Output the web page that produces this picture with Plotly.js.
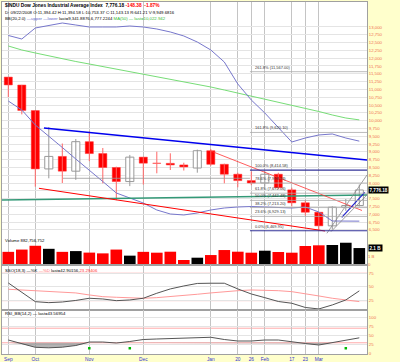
<!DOCTYPE html>
<html><head><meta charset="utf-8">
<script src="https://cdn.plot.ly/plotly-3.0.1.min.js"></script>
<style>html,body{margin:0;padding:0;background:#FFFFCC;}#chart{width:400px;height:362px;}</style>
</head><body><div id="chart"></div>
<script>
// ---- data (weekly, $INDU) ----
const weeks = ['2008-09-22','2008-09-29','2008-10-06','2008-10-13','2008-10-20','2008-10-27','2008-11-03','2008-11-10','2008-11-17','2008-11-24','2008-12-01','2008-12-08','2008-12-15','2008-12-22','2008-12-29','2009-01-05','2009-01-12','2009-01-20','2009-01-26','2009-02-02','2009-02-09','2009-02-17','2009-02-23','2009-03-02','2009-03-09','2009-03-16','2009-03-23'];
const openP  = [11394.42,11139.6,10322,8451,8852,8379,9325,8944,8497,8046,8829,8635,8630,8579,8480,9035,8599,8281,8078,8001,8281,7780,7366,7063,6627,7224,7278];
const highP  = [11394.58,11143,10322,9794,9265,9410,9654,9122,8523,8900,8830,9004,8952,8650,9070,9088,8620,8330,8370,8381,8330,7850,7450,7063,7253,7486,7953];
const lowP   = [10753.37,10200,7882,8150,8000,8100,8700,7990,7449,7900,7950,8311,8417,8400,8330,8550,7990,7862,7930,7880,7800,7249,6952,6470,6516,7107,7249];
const closeP = [11143.13,10325.38,8451.19,8852.22,8378.95,9325.01,8943.81,8497.31,8046.42,8829.04,8635.42,8629.68,8579.11,8515.55,9034.69,8599.18,8281.22,8077.56,8000.86,8280.59,7850.41,7365.67,7062.93,6626.94,7223.98,7278.38,7776.18];
const volumeB = [1.6,1.9,2.4,2.0,1.6,1.7,1.5,1.4,1.9,1.1,1.6,1.49,1.62,0.53,0.83,1.18,1.84,1.62,1.49,1.75,1.58,1.49,2.37,2.46,2.5,2.8,2.1];
const bbUpper = [12728,12615,12968,13048,13128,13064,13000,13000,13000,13032,13000,12936,12840,12712,12519,12263,11878,11173,10660,10244,9795,9314,9442,9539,9571,9442,9341.89];
const bbLower = [10628,10340,9859,9506,9138,8769,8417,8048,7680,7520,7359,7135,7007,6975,7039,7135,7199,7231,7247,7231,7215,7199,7231,7071,6782,6782,6777.22];
const ma50 = [12391,12263,12167,12071,11974,11894,11814,11734,11654,11574,11494,11414,11333,11253,11173,11077,10981,10885,10788,10692,10596,10500,10404,10292,10180,10083,10022.94];
const ssoK = [57.3,40.9,23.2,21.4,22.6,25.4,29.4,28.1,25,26.3,29.4,38.5,46.4,51.8,56.4,56.8,56.8,46.4,37.2,30.5,23.5,20.3,12.6,9.9,17.2,26.3,42.9];
const ssoD = [45.8,44.5,43.2,42.2,41.4,39.1,35.4,32.3,31.2,29.9,29.4,30.5,32.3,34.5,36.7,39.1,41.4,43.2,44.5,44.5,43.2,41.4,38.1,33.6,29.4,26.3,23.3];
const rsiBB = [37.6,26.6,17.6,16.2,17.9,22.5,32.1,32.1,29.4,33.5,39.0,40.4,41.2,41.8,42.3,45.1,39.0,34.9,34.9,37.6,37.6,32.1,28.0,23.9,30.8,37.6,43.57];
const rsiSignalWeeks = [6,9,25];
const rsiSignalValue = [15,15,15];
const tickWeekIdx = [0,2,6,10,15,17,18,19,21,22,23];
const tickLabels = ['Sep','Oct','Nov','Dec','Jan','20','26','Feb','17','23','Mar'];
const priceTicks = [6500,6750,7000,7250,7500,7750,8000,8250,8500,8750,9000,9250,9500,9750,10000,10250,10500,10750,11000,11250,11500,11750,12000,12250,12500,12750,13000];
// trend lines: [week index start, end], [price start, end]
const blueLineX = [2.64,26.57], blueLineY = [9763,8737];
const tealLineX = [-0.47,26.57], tealLineY = [7455,7616];
const redLowX = [2.27,23.46], redLowY = [7830,6462];
const redHighX = [14.94,26.2], redHighY = [9035,7119];
const grayFan1X = [23.6,26.57], grayFan1Y = [6388,8257];
const grayFan2X = [23.9,26.57], grayFan2Y = [6440,7620];
const blueFanX = [24.7,26.4], blueFanY = [6900,7700];
const supportX = [4.05,17.9], supportY = [8151,8151];
const fibStartX = 17.9;
const fibLevels = [6469.95,6929.13,7213.20,7442.48,7672.06,7998.93,8414.58,9620.10,11567.00];
const fibNames  = ['0.0%','23.6%','38.2%','50.0%','61.8%','78.6%','100.0%','161.8%','261.8%'];

// ---- build traces ----
const idx = weeks.map((_, i) => i);
const up = idx.map(i => closeP[i] > openP[i]);
function wick(sel){ const xs=[], ys=[]; idx.forEach(i=>{ if(sel(i)){ xs.push(i,i,null); ys.push(lowP[i],highP[i],null);} }); return {xs,ys}; }
const wUp = wick(i=>up[i]), wDn = wick(i=>!up[i]);
const traces = [];
// volume (overlay axis)
traces.push({type:'bar', x:idx, y:volumeB, yaxis:'y4', width:0.86,
  marker:{color: idx.map(i => (i>0 && closeP[i] > closeP[i-1]) ? '#000000' : '#FF0000'), line:{width:0}}});
traces.push({type:'scatter', mode:'lines', x:wUp.xs, y:wUp.ys, line:{color:'#999999', width:1}});
traces.push({type:'scatter', mode:'lines', x:wDn.xs, y:wDn.ys, line:{color:'#FF6666', width:1}});
const upI = idx.filter(i=>up[i]), dnI = idx.filter(i=>!up[i]);
traces.push({type:'bar', x:upI, base:upI.map(i=>openP[i]), y:upI.map(i=>closeP[i]-openP[i]), width:0.6,
  marker:{color:'#FFFFFF', line:{color:'#999999', width:1}}});
traces.push({type:'bar', x:dnI, base:dnI.map(i=>closeP[i]), y:dnI.map(i=>openP[i]-closeP[i]), width:0.6,
  marker:{color:'#FF0000', line:{color:'#FF3333', width:0.5}}});
// indicators
traces.push({type:'scatter', mode:'lines', x:idx, y:ma50, line:{color:'#77DD77', width:1}});
traces.push({type:'scatter', mode:'lines', x:idx, y:bbUpper, line:{color:'#7777CC', width:1}});
traces.push({type:'scatter', mode:'lines', x:idx, y:bbLower, line:{color:'#7777CC', width:1}});
// trend lines
const tl = (x,y,c,w)=>traces.push({type:'scatter', mode:'lines', x:x, y:y, line:{color:c, width:w}});
tl(supportX, supportY, '#999999', 0.8);
tl(tealLineX, tealLineY, '#339977', 1.5);
tl(blueLineX, blueLineY, '#0000EE', 1.5);
tl(redLowX, redLowY, '#FF0000', 1);
tl(redHighX, redHighY, '#FF3333', 0.8);
tl(grayFan1X, grayFan1Y, '#888888', 0.8);
tl(grayFan2X, grayFan2Y, '#888888', 0.8);
tl(blueFanX, blueFanY, '#2222CC', 1.2);
// SSO
traces.push({type:'scatter', mode:'lines', x:idx, y:ssoD, yaxis:'y2', line:{color:'#FF9999', width:1}});
traces.push({type:'scatter', mode:'lines', x:idx, y:ssoK, yaxis:'y2', line:{color:'#555555', width:1}});
// RSI
traces.push({type:'scatter', mode:'lines', x:idx, y:idx.map(()=>30), yaxis:'y3', line:{width:0}});
traces.push({type:'scatter', mode:'lines', x:idx, y:rsiBB.map(v=>Math.min(v,30)), yaxis:'y3', line:{width:0}, fill:'tonexty', fillcolor:'rgba(130,130,130,0.6)'});
traces.push({type:'scatter', mode:'lines', x:idx, y:rsiBB, yaxis:'y3', line:{color:'#555555', width:1}});
traces.push({type:'scatter', mode:'markers', x:rsiSignalWeeks, y:rsiSignalValue, yaxis:'y3', marker:{color:'#00BB00', size:2.5, symbol:'square'}});

// ---- layout ----
const PY = py => (354 - py) / 352;   // pixel row -> paper fraction
const shapes = [];
fibLevels.forEach((lv,k)=>{
  const strong = (k===0 || k===6);
  shapes.push({type:'line', xref:'x', yref:'y', x0:fibStartX, x1:26.6, y0:lv, y1:lv, line:{color: strong ? '#333399' : '#AAAAAA', width: strong ? 1.2 : 0.8}});
});
[[75,'y2'],[25,'y2'],[70,'y3'],[30,'y3']].forEach(([v,ax])=>{
  shapes.push({type:'line', xref:'paper', yref:ax, x0:0, x1:1, y0:v, y1:v, layer:'below', line:{color:'#FFAAAA', width:1}});
});
const small = {family:'Liberation Sans, Arial, sans-serif', size:4.3, color:'#000'};
const annotations = [
  {xref:'paper', yref:'paper', x:0.003, y:PY(5), xanchor:'left', yanchor:'middle', showarrow:false,
   font:{family:'Liberation Sans, Arial, sans-serif', size:4.8, color:'#000'},
   text:'<b>$INDU Dow Jones Industrial Average Index  7,776.18 <span style="color:#FF0000">-148.38  -1.87%</span></b>'},
  {xref:'paper', yref:'paper', x:0.003, y:PY(12.5), xanchor:'left', yanchor:'middle', showarrow:false, font:small,
   text:'D: 09/22/2008 O:11,394.42 H:11,394.58 L:10,753.37 C:11,143.13 R:641.21 V:9,949.6816'},
  {xref:'paper', yref:'paper', x:0.003, y:PY(18.5), xanchor:'left', yanchor:'middle', showarrow:false, font:small,
   text:'BB(20,2.0) <span style="color:#6666CC">—upper —lower</span> last=9,341.8876,6,777.2244 <span style="color:#33BB33">MA(50) — last=10,022.942</span>'},
  {xref:'paper', yref:'paper', x:0.003, y:PY(240), xanchor:'left', yanchor:'middle', showarrow:false, font:small,
   text:'Volume 882,756,752'},
  {xref:'paper', yref:'paper', x:0.003, y:PY(270), xanchor:'left', yanchor:'middle', showarrow:false, font:small,
   text:'SSO(18,3) —%K <span style="color:#FF6666">—%D</span> last=42.90156,<span style="color:#FF3333">23.29406</span>'},
  {xref:'paper', yref:'paper', x:0.003, y:PY(313), xanchor:'left', yanchor:'middle', showarrow:false, font:small,
   text:'RSI_BB(14,2) — last=43.56954'},
  {xref:'paper', yref:'y', x:1.003, y:7776.18, xanchor:'left', yanchor:'middle', showarrow:false,
   bgcolor:'#000000', borderpad:0.5, font:{family:'Liberation Sans, Arial, sans-serif', size:4.6, color:'#FFFFFF'}, text:'<b>7,776.18</b>'},
  {xref:'paper', yref:'y4', x:1.003, y:2.1, xanchor:'left', yanchor:'middle', showarrow:false,
   bgcolor:'#000000', borderpad:0.5, font:{family:'Liberation Sans, Arial, sans-serif', size:4.6, color:'#FFFFFF'}, text:'<b>2.1 B</b>'}
];
fibLevels.forEach((lv,k)=>{
  annotations.push({xref:'x', yref:'y', x:fibStartX+0.2, y:lv, xanchor:'left', yanchor:'bottom', showarrow:false,
    font:{family:'Liberation Sans, Arial, sans-serif', size:4, color:'#333333'},
    text: fibNames[k] + ' (' + lv.toLocaleString('en-US',{minimumFractionDigits:2, maximumFractionDigits:2}) + ')'});
});
const tickFont = {family:'Liberation Sans, Arial, sans-serif', size:4.3, color:'#F07050'};
const yBase = {side:'right', showline:true, linecolor:'#A0A0A0', linewidth:1, mirror:true, zeroline:false, ticks:'', tickfont:tickFont, gridcolor:'#E4E4E4', gridwidth:1, fixedrange:true};
// the 7,750 label sits under the last-price box, so it is left blank
const priceTickText = priceTicks.map(v => v === 7750 ? '' : v.toLocaleString('en-US'));
const layout = {
  width:400, height:362, margin:{l:2, r:33, t:2, b:8},
  paper_bgcolor:'#FFFFCC', plot_bgcolor:'#FFFFFF', showlegend:false, barmode:'overlay', hovermode:false,
  font:{family:'Liberation Sans, Arial, sans-serif', size:5, color:'#000'},
  xaxis:{anchor:'y3', range:[-0.467,26.57], tickmode:'array', tickvals:tickWeekIdx, ticktext:tickLabels,
    showgrid:true, gridcolor:'#C4C4C4', gridwidth:1.3, zeroline:false, showline:true, linecolor:'#A0A0A0', mirror:'all',
    ticks:'', tickfont:{family:'Liberation Sans, Arial, sans-serif', size:4.8, color:'#3333CC'}, fixedrange:true},
  yaxis: Object.assign({}, yBase, {domain:[PY(265),1], range:[5372,13801], tickmode:'array', tickvals:priceTicks,
    ticktext:priceTickText}),
  yaxis4: Object.assign({}, yBase, {overlaying:'y', range:[-0.13,34.47], showgrid:false, showline:false, tickmode:'array', tickvals:[0,1], ticktext:['0','1 B']}),
  yaxis2: Object.assign({}, yBase, {domain:[PY(310),PY(265)], range:[8,90], tickmode:'array', tickvals:[25,50,75]}),
  yaxis3: Object.assign({}, yBase, {domain:[0,PY(310)], range:[-0.8,120], tickmode:'array', tickvals:[0,25,50,75,100]}),
  shapes: shapes, annotations: annotations
};
Plotly.newPlot('chart', traces, layout, {staticPlot:true, displayModeBar:false});
</script></body></html>
